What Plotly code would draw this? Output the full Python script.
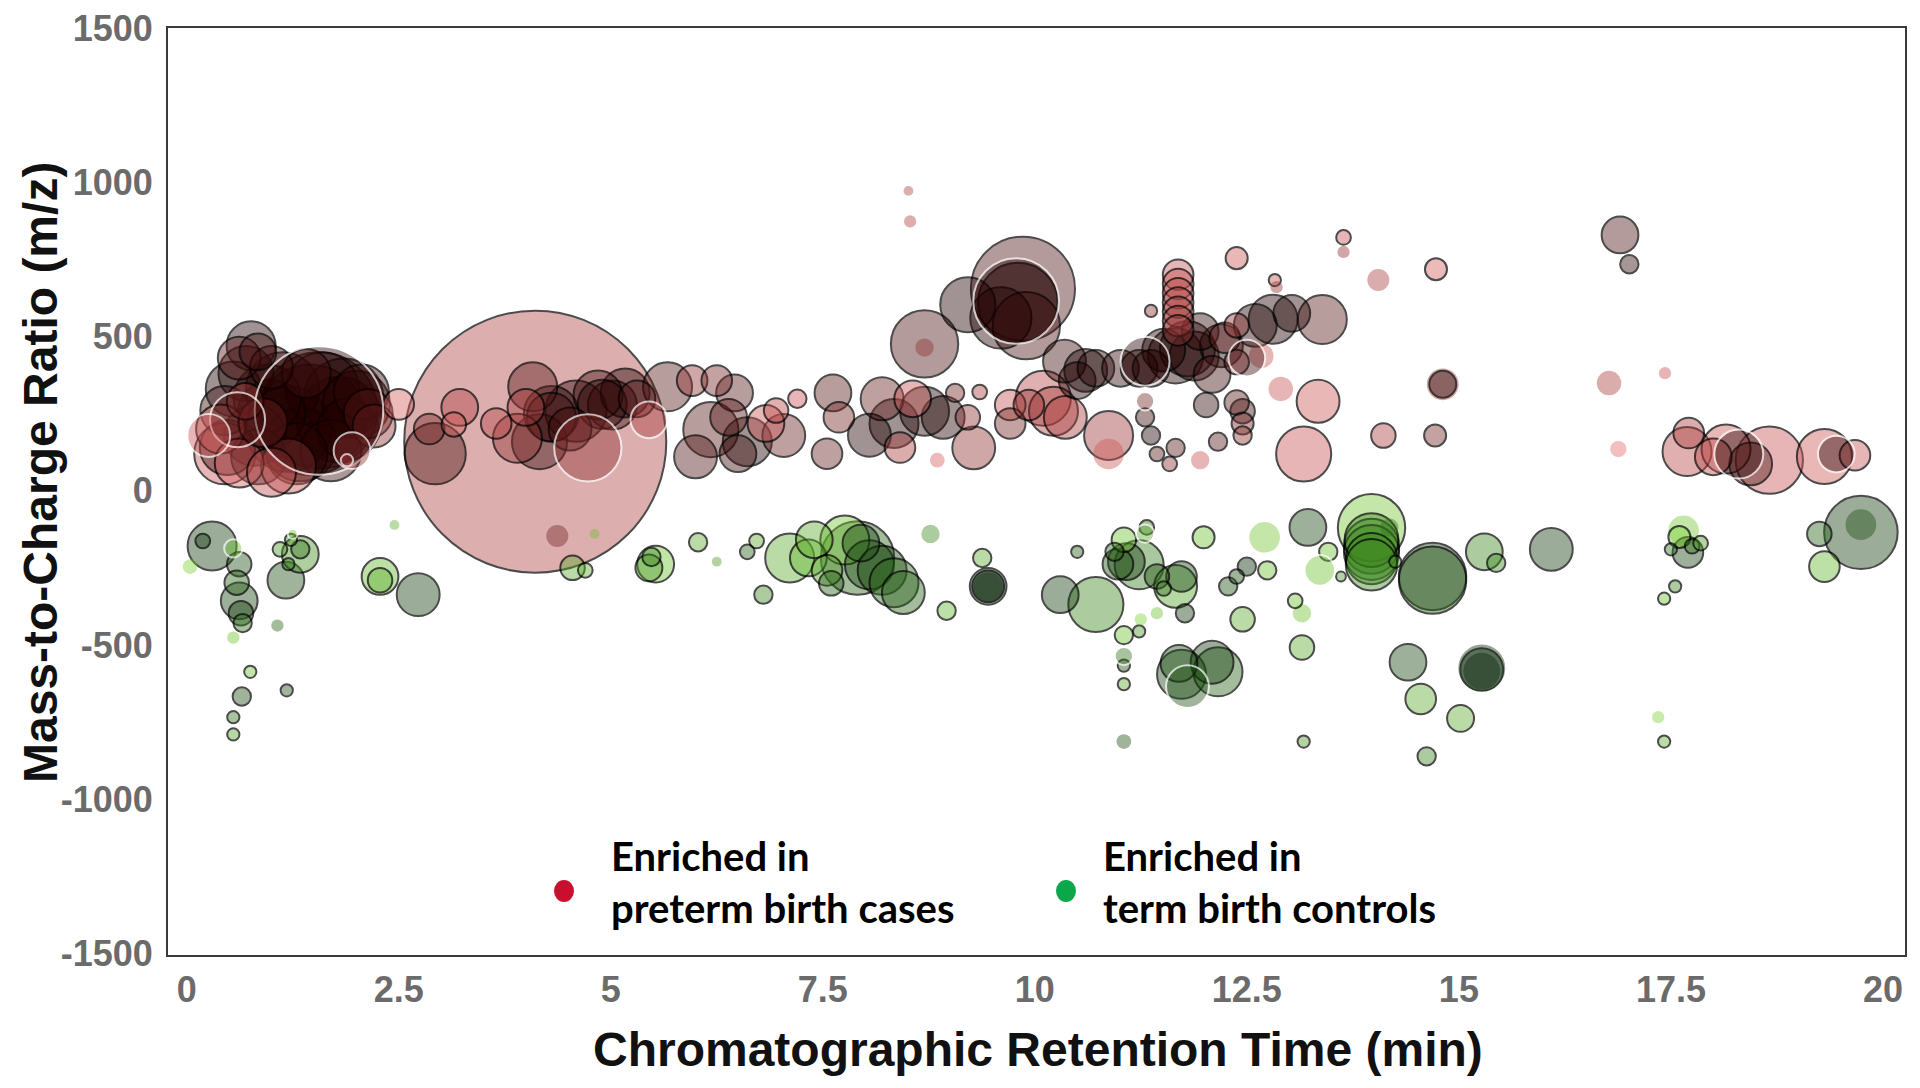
import plotly.graph_objects as go

# ---------------- data ----------------
# Features enriched in preterm birth cases
red_rt = [0.76, 0.84, 0.62, 0.55, 0.45, 0.40, 0.48, 0.62, 0.85, 1.00, 1.13, 1.56, 1.56, 1.85, 2.06, 2.14,
          1.34, 1.70, 1.20, 0.26, 1.00, 0.69, 1.89, 2.21, 1.90, 0.90, 1.41, 2.50, 2.86, 3.15,
          1.45, 1.20, 1.80, 0.95, 0.80, 1.60, 2.00, 1.30, 0.70, 0.45, 1.00, 0.60, 1.95,
          4.11, 2.93, 3.22, 3.65, 4.08, 4.16, 4.30, 4.59, 4.73, 4.52, 5.02, 5.17, 5.31, 5.67, 4.00, 3.90,
          5.45, 4.85, 4.30, 4.90, 5.96, 6.25, 6.46, 6.18, 6.61, 6.39, 6.83, 7.04, 6.00, 6.50, 6.95, 7.20,
          7.62, 7.69, 7.55, 8.20, 8.34, 8.56, 8.70, 8.05, 8.41, 8.92, 9.06, 9.21, 9.28, 8.85, 9.35,
          8.51, 8.53, 8.70, 8.70, 9.21, 9.86, 9.78, 9.80, 9.90, 9.60,
          9.71, 9.71, 9.93, 10.22, 10.36, 10.10, 10.50, 10.72, 10.87, 10.87, 10.35, 11.01, 11.23, 11.37,
          11.52, 11.66, 11.88, 11.95, 12.09, 12.24, 12.38, 12.38, 12.45, 12.60, 12.81, 13.03, 13.39, 12.67,
          11.30, 11.80, 12.20, 10.60, 12.50,
          13.34, 13.17, 12.90, 11.30, 11.30, 11.37, 11.44, 11.59, 11.66, 11.95, 12.02, 12.38, 12.45, 12.16,
          12.45, 11.69, 11.69, 11.69, 11.69, 11.69, 11.69, 11.69, 11.37,
          12.38, 12.83, 12.85, 13.64, 13.64, 14.05, 14.73, 14.11, 14.72, 14.81, 14.81, 16.77, 16.88, 16.90,
          17.01, 17.43, 17.71, 17.69, 18.15, 18.30, 18.44, 18.66, 19.31, 19.45, 19.67, 18.00, 4.37]
red_mz = [470, 450, 430, 330, 260, 200, 140, 90, 110, 250, 330, 260, 260, 300, 320, 250,
          150, 130, 80, 179, 400, 290, 99, 210, 200, 220, 380, 280, 200, 215,
          230, 200, 230, 300, 180, 330, 280, 120, 380, 120, 60, 230, 130,
          159, 120, 270, 218, 337, 159, 238, 258, 139, 200, 278, 317, 298, 337, 270, 170,
          230, 310, 250, 280, 357, 357, 317, 198, 159, 238, 218, 179, 110, 120, 260, 298,
          317, 238, 120, 298, 218, 298, 258, 180, 140, 238, 317, 238, 139, 99, 320,
          972, 873, 476, 464, 603, 655, 615, 610, 535, 560,
          278, 218, 278, 258, 238, 300, 357, 397, 179, 119, 420, 397, 397, 397,
          456, 437, 437, 516, 377, 496, 536, 417, 258, 536, 556, 575, 555, 437,
          420, 460, 470, 390, 430,
          290, 119, 330, 290, 238, 179, 119, 87, 139, 99, 278, 286, 218, 159,
          179, 700, 670, 640, 610, 580, 550, 520, 583,
          754, 683, 660, 821, 774, 683, 718, 179, 179, 345, 345, 349, 135, 829,
          734, 381, 187, 127, 135, 119, 87, 99, 111, 119, 115, 110, -147]
red_size = [40, 30, 35, 45, 40, 40, 45, 40, 45, 55, 60, 105, 95, 65, 45, 40,
            60, 50, 45, 35, 35, 30, 10, 35, 50, 40, 40, 25, 25, 20,
            90, 70, 70, 55, 50, 60, 55, 50, 45, 50, 40, 45, 30,
            214, 50, 30, 25, 40, 45, 40, 50, 55, 35, 40, 40, 30, 40, 30, 40,
            30, 40, 45, 40, 25, 25, 30, 45, 40, 30, 30, 35, 35, 30, 20, 15,
            30, 25, 25, 35, 40, 30, 40, 35, 25, 35, 15, 20, 35, 12, 12,
            8, 10, 55, 15, 45, 85, 70, 65, 55, 50,
            25, 25, 25, 40, 35, 45, 30, 30, 40, 25, 35, 30, 30, 30,
            35, 45, 40, 30, 30, 25, 20, 20, 20, 35, 40, 30, 40, 20,
            40, 45, 35, 35, 30,
            35, 45, 20, 15, 15, 15, 12, 12, 15, 15, 20, 20, 18, 15,
            15, 25, 25, 25, 25, 25, 25, 25, 10,
            18, 10, 10, 12, 10, 18, 18, 20, 18, 22, 26, 20, 15, 30,
            15, 10, 25, 40, 40, 40, 35, 55, 45, 30, 25, 30, 18]
red_shade = [1.0, 0.9, 0.8, 1.0, 0.9, 0.3, 0.9, 0.2, 1.0, 1.0, 1.0, 1.0, 1.0, 1.0, 0.9, 0.7,
             1.0, 0.9, 0.3, 0.3, 0.9, 0.5, 0.5, 0.6, 1.0, 0.5, 0.8, 0.2, 0.7, 0.25,
             1.0, 1.0, 1.0, 1.0, 1.0, 1.0, 1.0, 1.0, 1.0, 0.3, 0.35, 0.9, 0.6,
             0.45, 0.85, 0.45, 0.4, 0.8, 0.95, 0.9, 0.95, 0.6, 0.9, 0.9, 1.0, 0.85, 0.8, 0.5, 0.6,
             0.5, 0.9, 1.0, 1.0, 0.6, 0.7, 0.8, 0.8, 1.0, 0.8, 0.25, 0.75, 0.85, 0.9, 0.4, 0.3,
             0.8, 0.7, 0.75, 0.75, 1.0, 0.3, 1.0, 1.0, 0.5, 1.0, 0.7, 0.6, 0.6, 0.2, 0.5,
             0.45, 0.45, 0.85, 0.6, 1.0, 0.85, 1.0, 1.0, 0.85, 1.0,
             0.3, 0.7, 0.6, 0.5, 0.5, 0.4, 1.0, 1.0, 0.55, 0.25, 0.9, 0.95, 1.0, 1.0,
             1.0, 1.0, 1.0, 0.95, 0.9, 0.75, 0.6, 0.6, 0.9, 1.0, 1.0, 1.0, 0.8, 0.3,
             1.0, 1.0, 1.0, 1.0, 0.9,
             0.25, 0.3, 0.3, 0.7, 0.9, 1.0, 0.8, 0.6, 0.8, 0.3, 0.95, 0.8, 0.7, 0.8,
             0.6, 0.3, 0.35, 0.4, 0.45, 0.5, 0.55, 0.6, 0.6,
             0.25, 0.3, 0.6, 0.3, 0.6, 0.5, 0.2, 0.5, 0.7, 0.95, 0.6, 0.5, 0.1, 0.85,
             0.95, 0.3, 0.5, 0.4, 0.25, 1.0, 0.85, 0.3, 0.25, 1.0, 0.3, 0.4, 0.7]
red_ring = ['k', 'k', 'k', 'k', 'k', 'k', 'k', 'k', 'k', 'k', 'k', 'w', 'k', 'k', 'k', 'k',
            'k', 'k', 'k', 'w', 'k', 'k', 'w', 'k', 'k', 'k', 'k', 'k', 'k', 'k',
            'k', 'k', 'k', 'k', 'k', 'k', 'k', 'k', 'k', 'k', 'k', 'w', 'w',
            'k', 'k', 'k', 'k', 'k', 'k', 'k', 'k', 'w', 'k', 'k', 'k', 'k', 'k', 'k', 'k',
            'w', 'k', 'k', 'k', 'k', 'k', 'k', 'k', 'k', 'k', 'k', 'k', 'k', 'k', 'k', 'k',
            'k', 'k', 'k', 'k', 'k', 'k', 'k', 'k', 'k', 'k', 'k', 'k', 'k', 'n', 'k',
            'n', 'n', 'k', 'n', 'k', 'k', 'w', 'k', 'k', 'k',
            'k', 'k', 'k', 'k', 'k', 'k', 'k', 'k', 'k', 'n', 'k', 'k', 'k', 'k',
            'k', 'k', 'k', 'k', 'k', 'k', 'k', 'k', 'k', 'k', 'k', 'k', 'k', 'n',
            'w', 'k', 'k', 'k', 'w',
            'k', 'k', 'n', 'w', 'k', 'k', 'k', 'k', 'k', 'n', 'k', 'k', 'k', 'k',
            'k', 'k', 'k', 'k', 'k', 'k', 'k', 'k', 'k',
            'k', 'k', 'n', 'k', 'n', 'n', 'k', 'k', 'k', 'k', 'n', 'n', 'w', 'k',
            'k', 'n', 'k', 'k', 'k', 'w', 'k', 'k', 'k', 'w', 'k', 'k', 'n']

# Features enriched in term birth controls
green_rt = [0.30, 0.19, 0.04, 0.55, 0.62, 0.59, 0.62, 0.64, 0.66, 0.55, 0.75, 0.65, 0.55, 0.55,
            1.07, 1.17, 1.20, 1.23, 1.25, 1.34, 1.34, 1.18, 1.10, 2.45, 2.28, 2.28, 2.73,
            4.70, 4.81, 4.55, 5.53, 5.45, 5.48, 6.03, 6.25, 6.61, 6.72, 6.80, 7.11, 7.33, 7.40,
            7.55, 7.76, 7.91, 8.05, 8.20, 8.34, 8.45, 8.77, 8.96, 9.38, 9.45, 9.45, 7.60, 7.95,
            10.30, 10.50, 10.72, 10.94, 10.98, 11.05, 11.08, 11.23, 11.30, 11.32, 11.44, 11.66,
            11.73, 11.77, 11.52, 11.44, 11.23, 11.05, 11.05, 11.05, 11.05, 11.05, 11.25, 11.73,
            11.80, 11.70, 12.09, 12.16, 11.99, 12.28, 12.38, 12.50, 12.45, 12.74, 12.71, 13.07,
            13.15, 13.15, 13.17, 13.22, 13.36, 13.46, 13.61, 13.97, 13.97, 13.97, 13.97, 14.18,
            14.69, 14.69, 14.25, 14.40, 14.55, 14.62, 15.02, 15.27, 15.27, 15.30, 15.44, 16.09,
            17.65, 17.60, 17.70, 17.75, 17.50, 17.85, 17.42, 17.55, 17.35, 17.42, 19.31, 19.25,
            19.74, 19.74, 13.97, 13.97, 15.27, 9.45]
green_mz = [-179, -163, -246, -187, -238, -298, -357, -397, -429, -476, -587, -667, -734, -790,
            -437, -290, -238, -159, -140, -206, -190, -647, -190, -111, -278, -290, -337,
            -258, -140, -250, -238, -250, -215, -167, -230, -198, -163, -337, -218, -218, -159,
            -258, -160, -218, -240, -258, -298, -330, -140, -389, -218, -310, -310, -300, -170,
            -337, -198, -369, -198, -238, -159, -230, -240, -139, -119, -278, -310,
            -278, -397, -317, -397, -456, -468, -536, -567, -627, -813, -417, -595,
            -635, -560, -556, -587, -151, -310, -278, -246, -417, -258, -151, -357,
            -508, -397, -813, -119, -258, -198, -278, -120, -180, -200, -220, -119,
            -278, -290, -230, -556, -675, -861, -738, -575, -580, -198, -234, -190,
            -130, -150, -200, -180, -190, -170, -350, -310, -734, -813, -246, -140,
            -135, -110, -160, -240, -585, -312]
green_size = [40, 12, 12, 15, 20, 20, 30, 20, 15, 10, 10, 15, 10, 10,
              10, 30, 10, 10, 8, 30, 15, 10, 12, 8, 30, 20, 35,
              12, 8, 20, 30, 22, 15, 15, 8, 12, 12, 15, 40, 30, 30,
              25, 40, 60, 40, 40, 40, 35, 15, 15, 15, 30, 26, 20, 30,
              30, 10, 45, 15, 25, 20, 30, 40, 15, 12, 20, 35,
              25, 15, 12, 10, 10, 15, 15, 10, 10, 12, 10, 40,
              35, 30, 35, 40, 18, 15, 12, 15, 20, 15, 25, 12,
              20, 15, 10, 30, 25, 15, 8, 55, 45, 45, 42, 15,
              55, 55, 10, 30, 25, 15, 22, 40, 35, 30, 15, 35,
              25, 18, 25, 12, 10, 12, 10, 10, 10, 10, 25, 20,
              60, 25, 44, 42, 30, 24]
green_shade = [0.9, 0.9, 0.1, 0.2, 0.8, 0.7, 0.85, 0.9, 0.6, 0.2, 0.2, 0.8, 0.6, 0.35,
               0.7, 0.8, 0.5, 0.4, 0.2, 0.45, 0.6, 0.8, 0.4, 0.3, 0.25, 0.3, 0.9,
               0.3, 0.2, 0.3, 0.2, 0.4, 0.5, 0.3, 0.4, 0.7, 0.3, 0.5, 0.3, 0.25, 0.3,
               0.4, 0.15, 0.7, 0.8, 0.85, 0.7, 0.7, 0.5, 0.25, 0.3, 1.0, 1.0, 0.7, 0.85,
               0.9, 0.7, 0.5, 0.7, 0.8, 0.2, 0.9, 0.55, 0.3, 0.6, 0.8, 0.35,
               0.85, 0.9, 0.6, 0.2, 0.4, 0.2, 0.6, 0.8, 0.3, 0.8, 0.1, 0.85,
               0.8, 0.8, 0.9, 0.7, 0.2, 0.8, 0.8, 1.0, 0.3, 0.2, 0.15, 0.2,
               0.3, 0.2, 0.4, 0.85, 0.2, 0.2, 0.4, 0.15, 0.5, 0.5, 0.5, 0.6,
               0.95, 0.7, 0.5, 0.85, 0.3, 0.5, 0.3, 1.0, 1.0, 0.5, 0.5, 0.9,
               0.15, 0.1, 0.85, 0.6, 0.6, 0.4, 0.2, 0.5, 0.1, 0.3, 0.25, 0.7,
               0.9, 0.8, 0.5, 0.5, 1.0, 1.0]
green_ring = ['k', 'k', 'n', 'w', 'k', 'k', 'k', 'k', 'k', 'n', 'k', 'k', 'k', 'k',
              'n', 'k', 'k', 'k', 'w', 'k', 'k', 'k', 'k', 'n', 'k', 'k', 'k',
              'k', 'n', 'k', 'k', 'k', 'k', 'k', 'n', 'k', 'k', 'k', 'k', 'k', 'k',
              'k', 'k', 'k', 'k', 'k', 'k', 'k', 'n', 'k', 'k', 'k', 'k', 'k', 'k',
              'k', 'k', 'k', 'k', 'k', 'k', 'k', 'k', 'w', 'k', 'k', 'k',
              'k', 'k', 'k', 'n', 'k', 'k', 'w', 'k', 'k', 'n', 'n', 'k',
              'w', 'k', 'k', 'k', 'k', 'k', 'k', 'k', 'k', 'k', 'n', 'k',
              'k', 'n', 'k', 'k', 'w', 'k', 'k', 'k', 'k', 'k', 'k', 'n',
              'k', 'k', 'k', 'k', 'k', 'k', 'k', 'w', 'k', 'k', 'k', 'k',
              'n', 'k', 'k', 'k', 'k', 'k', 'k', 'k', 'n', 'k', 'k', 'k',
              'k', 'n', 'k', 'k', 'n', 'n']

x_ticks = [0, 2.5, 5, 7.5, 10, 12.5, 15, 17.5, 20]
x_tick_labels = ['0', '2.5', '5', '7.5', '10', '12.5', '15', '17.5', '20']
y_ticks = [-1500, -1000, -500, 0, 500, 1000, 1500]
y_tick_labels = ['-1500', '-1000', '-500', '0', '500', '1000', '1500']
legend_labels = ['Enriched in<br>preterm birth cases', 'Enriched in<br>term birth controls']
legend_colors = ['#c8102e', '#0aa84a']

# ---------------- styling ----------------
SIZE_SCALE = 1.2245
ALPHA = 0.6
RED_STOPS = [(0.0, (242, 112, 112)), (0.5, (170, 60, 60)), (1.0, (34, 0, 0))]
GREEN_STOPS = [(0.0, (140, 228, 60)), (0.5, (60, 135, 30)), (1.0, (8, 40, 8))]
RING = {'k': 'rgba(0,0,0,1)', 'w': 'rgba(255,255,255,1)', 'n': 'rgba(0,0,0,0)'}


def shade_color(v, stops):
    for (p0, c0), (p1, c1) in zip(stops[:-1], stops[1:]):
        if v <= p1:
            t = (v - p0) / (p1 - p0) if p1 > p0 else 0
            c = [round(a + (b - a) * t) for a, b in zip(c0, c1)]
            return f'rgba({c[0]},{c[1]},{c[2]},{ALPHA})'
    c = stops[-1][1]
    return f'rgba({c[0]},{c[1]},{c[2]},{ALPHA})'


def bubble_trace(rt, mz, size, shade, ring, stops):
    order = sorted(range(len(rt)), key=lambda i: (ring[i] == 'w', -size[i]))
    return go.Scatter(
        x=[rt[i] for i in order],
        y=[mz[i] for i in order],
        mode='markers',
        showlegend=False,
        hoverinfo='skip',
        marker=dict(
            size=[size[i] * SIZE_SCALE for i in order],
            color=[shade_color(shade[i], stops) for i in order],
            line=dict(color=[RING[ring[i]] for i in order], width=2),
        ),
    )


fig = go.Figure()
fig.add_trace(bubble_trace(red_rt, red_mz, red_size, red_shade, red_ring, RED_STOPS))
fig.add_trace(bubble_trace(green_rt, green_mz, green_size, green_shade, green_ring, GREEN_STOPS))

# page body has an 8px margin -> plot frame placed to match the reference
L, R, T, B = 160, 23, 20, 141
PW, PH = 1920 - L - R, 1088 - T - B


def px_x(px):
    return (px - 8 - L) / PW


def px_y(py):
    return (1088 - B - (py - 8)) / PH


tick_font = dict(family='Arial', size=36, color='#6b6b6b', weight='bold')
title_font = dict(family='Arial', size=48, color='#111111', weight='bold')
legend_font = dict(family='Lato', size=40, color='black', weight='bold')

annotations = [
    dict(text='Chromatographic Retention Time (min)', xref='paper', yref='paper',
         x=px_x(1038), y=px_y(1049), xanchor='center', yanchor='middle',
         showarrow=False, font=title_font),
    dict(text='Mass-to-Charge Ratio (m/z)', xref='paper', yref='paper',
         x=px_x(40), y=px_y(473), xanchor='center', yanchor='middle', textangle=-90,
         showarrow=False, font=title_font),
]
shapes = []
legend_text_x = [609, 1101]
legend_dot_x = [564, 1066]
for lbl, col, tx, dx in zip(legend_labels, legend_colors, legend_text_x, legend_dot_x):
    annotations.append(dict(text=lbl, xref='paper', yref='paper', x=px_x(tx), y=px_y(882),
                            xanchor='left', yanchor='middle', align='left', showarrow=False,
                            font=legend_font))
    shapes.append(dict(type='circle', xref='paper', yref='paper', xsizemode='pixel',
                       ysizemode='pixel', xanchor=px_x(dx), yanchor=px_y(891),
                       x0=-10, x1=10, y0=-11, y1=11, fillcolor=col, line=dict(width=0)))

fig.update_layout(
    width=1920, height=1088,
    margin=dict(l=L, r=R, t=T, b=B, autoexpand=False),
    paper_bgcolor='white', plot_bgcolor='white',
    showlegend=False,
    xaxis=dict(range=[-0.22, 20.26], tickvals=x_ticks, ticktext=x_tick_labels,
               showgrid=False, zeroline=False, showline=True, mirror=True,
               linecolor='#3a3a3a', linewidth=2, ticks='', tickfont=tick_font,
               ticklabelstandoff=2, ticklabeloverflow='allow', automargin=False),
    yaxis=dict(range=[-1505, 1500], tickvals=y_ticks, ticktext=y_tick_labels,
               showgrid=False, zeroline=False, showline=True, mirror=True,
               linecolor='#3a3a3a', linewidth=2, ticks='', tickfont=tick_font,
               ticklabelstandoff=6, ticklabeloverflow='allow', automargin=False),
    annotations=annotations,
    shapes=shapes,
)

fig.write_html('out.html')
